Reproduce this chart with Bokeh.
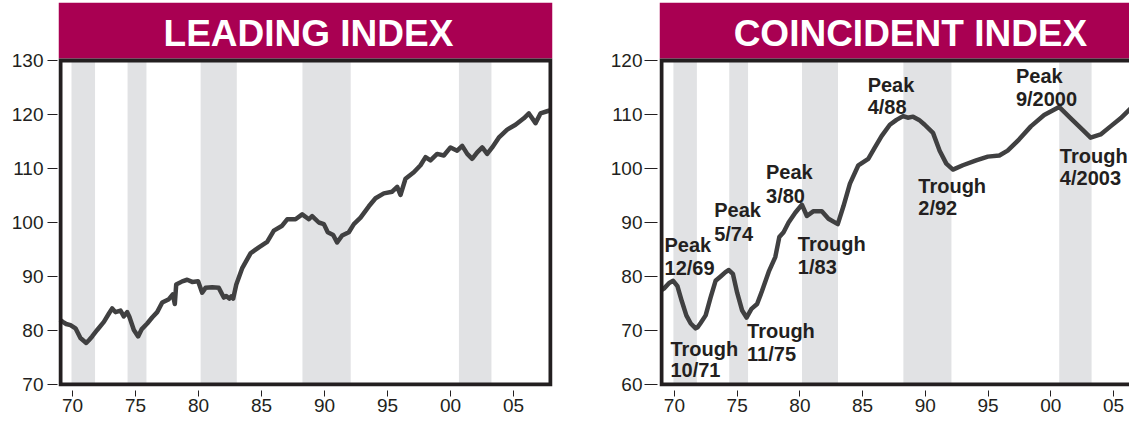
from bokeh.plotting import figure
from bokeh.layouts import row
from bokeh.models import Range1d, FixedTicker, CustomJSTickFormatter
from bokeh.core.properties import value
from bokeh.embed import file_html
from bokeh.resources import INLINE

# ---------------- data ----------------
leading_year = [1969.0, 1969.23, 1969.5, 1969.84, 1970.24, 1970.63, 1971.09, 1971.3, 1971.56, 1971.96,
                1972.49, 1972.88, 1973.15, 1973.41, 1973.81, 1974.07, 1974.34, 1974.52, 1974.87, 1975.21,
                1975.48, 1975.93, 1976.32, 1976.72, 1977.12, 1977.65, 1977.96, 1978.12, 1978.23, 1978.71,
                1979.1, 1979.5, 1979.97, 1980.29, 1980.56, 1981.09, 1981.61, 1982.01, 1982.2, 1982.45,
                1982.6, 1982.75, 1983.0, 1983.46, 1984.13, 1984.79, 1985.45, 1985.98, 1986.64, 1987.04,
                1987.7, 1988.23, 1988.76, 1989.02, 1989.55, 1989.95, 1990.26, 1990.69, 1991.0, 1991.4,
                1991.93, 1992.33, 1992.86, 1993.52, 1994.05, 1994.71, 1995.37, 1995.77, 1996.03, 1996.43,
                1997.09, 1997.62, 1998.02, 1998.41, 1998.94, 1999.47, 2000.0, 2000.53, 2000.93, 2001.33,
                2001.72, 2002.12, 2002.52, 2002.91, 2003.31, 2003.83, 2004.5, 2005.16, 2005.82, 2006.22,
                2006.75, 2007.14, 2007.67, 2007.95]
leading_value = [82.0, 81.6, 81.2, 81.0, 80.4, 78.6, 77.7, 78.2, 78.9, 80.1,
                 81.6, 83.1, 84.1, 83.4, 83.7, 82.6, 83.4, 82.5, 80.1, 78.9,
                 80.2, 81.3, 82.4, 83.4, 85.2, 85.8, 86.7, 84.9, 88.5, 89.1,
                 89.4, 89.0, 89.1, 87.0, 87.9, 88.0, 87.9, 86.1, 86.4, 85.9,
                 86.3, 85.9, 88.5, 91.5, 94.3, 95.4, 96.4, 98.5, 99.4, 100.6,
                 100.6, 101.5, 100.6, 101.2, 100.0, 99.7, 98.2, 97.7, 96.3, 97.6,
                 98.2, 99.7, 100.9, 103.0, 104.5, 105.4, 105.7, 106.6, 105.1, 108.1,
                 109.3, 110.6, 112.1, 111.5, 112.7, 112.4, 113.9, 113.3, 114.2, 112.7,
                 111.8, 113.0, 113.9, 112.7, 113.9, 115.7, 117.2, 118.1, 119.3, 120.2,
                 118.4, 120.2, 120.6, 120.8]

coincident_year = [1969.0, 1969.18, 1969.58, 1969.9, 1970.24, 1970.58, 1970.95, 1971.3, 1971.69, 1971.85,
                   1972.09, 1972.49, 1972.88, 1973.28, 1973.68, 1974.07, 1974.34, 1974.66, 1975.0, 1975.4,
                   1975.75, 1976.14, 1976.59, 1976.98, 1977.52, 1978.04, 1978.36, 1978.7, 1979.1, 1979.63,
                   1980.16, 1980.56, 1981.09, 1981.75, 1982.28, 1983.02, 1983.47, 1983.99, 1984.66, 1985.45,
                   1985.98, 1986.51, 1987.17, 1987.7, 1988.23, 1988.6, 1989.02, 1989.5, 1989.95, 1990.61,
                   1991.14, 1991.67, 1992.2, 1992.99, 1994.05, 1994.98, 1995.9, 1996.56, 1997.48, 1998.41,
                   1999.47, 2000.66, 2001.59, 2002.52, 2003.17, 2003.97, 2004.76, 2005.56, 2006.35, 2007.41]
coincident_value = [77.5, 77.8, 78.8, 79.2, 78.2, 75.5, 72.8, 71.3, 70.4, 70.6,
                    71.4, 72.8, 76.1, 79.2, 80.0, 80.8, 81.2, 80.5, 77.0, 73.7,
                    72.4, 74.0, 74.9, 77.3, 80.9, 83.6, 87.3, 88.2, 90.0, 91.8,
                    93.3, 91.2, 92.1, 92.1, 90.7, 89.7, 93.0, 97.2, 100.6, 101.8,
                    103.9, 106.0, 108.1, 109.0, 109.7, 109.4, 109.6, 109.0, 108.1, 106.6,
                    103.3, 100.9, 99.8, 100.6, 101.5, 102.2, 102.4, 103.3, 105.4, 107.8,
                    109.9, 111.4, 109.3, 107.2, 105.7, 106.3, 107.8, 109.3, 111.1, 112.6]

# growth-cycle peak-to-trough shading
shade_start = [1969.92, 1974.37, 1980.17, 1988.25, 2000.67]
shade_end = [1971.79, 1975.87, 1983.04, 1992.08, 2003.25]

x_ticks = [1970, 1975, 1980, 1985, 1990, 1995, 2000, 2005]
lead_y_ticks = [70, 80, 90, 100, 110, 120, 130]
coin_y_ticks = [60, 70, 80, 90, 100, 110, 120]

# annotation texts (two lines each) and their anchor positions (year, index)
ann_line1 = ["Peak", "Trough", "Peak", "Trough", "Peak", "Trough", "Peak", "Trough", "Peak", "Trough"]
ann_line2 = ["12/69", "10/71", "5/74", "11/75", "3/80", "1/83", "4/88", "2/92", "9/2000", "4/2003"]
ann_x = [1969.21, 1969.68, 1973.17, 1975.79, 1977.30, 1979.84, 1985.40, 1989.44, 1997.22, 2000.72]
ann_y1 = [85.9, 66.6, 92.3, 70.0, 99.35, 86.1, 115.5, 96.8, 117.1, 102.25]
ann_y2 = [81.6, 62.75, 87.9, 65.65, 95.0, 81.8, 111.3, 92.6, 112.9, 98.3]

# ---------------- style / layout (pixels) ----------------
MAGENTA = "#A90052"
SHADE = "#E1E2E4"
LINE = "#404041"
DARK = "#231F20"
FONT = "Liberation Sans"

FIG_H = 421
TOP = 2          # border above the banner
BANNER = 56      # banner height
BORDER = 4       # frame line width
PLOT = 324       # distance between frame line centres (top to bottom)
BOTTOM = FIG_H - TOP - BANNER - BORDER - PLOT   # x-axis panel
PX_PER_YEAR = 12.6
PX_PER_UNIT = PLOT / 60.0

LEFT_W = 607
RIGHT_W = 522
LEFT_BL, LEFT_BR = 58, 55      # left figure borders -> frame 494 px
RIGHT_BL = 50                  # right figure frame 472 px


def make_chart(width, bl, br, year_at_line, ymin, yticks, title, title_x):
    half = BORDER / 2.0
    frame_w = width - bl - br
    x0 = year_at_line - half / PX_PER_YEAR
    x1 = x0 + frame_w / PX_PER_YEAR
    ymax = ymin + 60
    y0 = ymin - half / PX_PER_UNIT
    ytop = ymax + (half + BANNER) / PX_PER_UNIT
    p = figure(width=width, height=FIG_H, x_range=Range1d(x0, x1), y_range=Range1d(y0, ytop),
               toolbar_location=None, output_backend="svg",
               min_border_left=bl, min_border_right=br,
               min_border_top=TOP, min_border_bottom=BOTTOM,
               background_fill_color="white", border_fill_color="white",
               outline_line_color=None)
    p.xgrid.visible = False
    p.ygrid.visible = False
    # recession shading
    p.quad(left=shade_start, right=shade_end, bottom=ymin, top=ymax,
           fill_color=SHADE, line_color=None)
    # banner
    p.quad(left=[x0], right=[x1], bottom=[ymax + half / PX_PER_UNIT], top=[ytop],
           fill_color=MAGENTA, line_color=None)
    p.text(x=[title_x], y=[ymax + half / PX_PER_UNIT + 0.45 * BANNER / PX_PER_UNIT], text=[title],
           text_color="white", text_font=value(FONT), text_font_style="bold",
           text_font_size="37px", text_align="center", text_baseline="middle")
    # axes
    p.xaxis.ticker = FixedTicker(ticks=x_ticks)
    p.xaxis.formatter = CustomJSTickFormatter(code="return String(Math.round(tick) % 100).padStart(2, '0');")
    p.yaxis.ticker = FixedTicker(ticks=yticks)
    for ax in (p.xaxis[0], p.yaxis[0]):
        ax.axis_line_color = None
        ax.minor_tick_line_color = None
        ax.major_tick_line_color = DARK
        ax.major_tick_line_width = 1
        ax.major_label_text_font = FONT
        ax.major_label_text_font_size = "19px"
        ax.major_label_text_color = DARK
    p.xaxis.major_tick_in = -4
    p.xaxis.major_tick_out = 10
    p.xaxis.major_label_standoff = 2
    box = (year_at_line, ymin, ymax)
    return p, box


def frame_box(p, box, right):
    left, ymin, ymax = box
    p.quad(left=[left], right=[right], bottom=[ymin], top=[ymax], fill_color=None,
           line_color=DARK, line_width=BORDER, line_join="miter")


# ---------------- leading ----------------
lp, lbox = make_chart(LEFT_W, LEFT_BL, LEFT_BR, 1969.048, 70, lead_y_ticks,
                      "LEADING INDEX", 1988.73)
lp.line(leading_year, leading_value, line_color=LINE, line_width=4.5, line_join="round")
frame_box(lp, lbox, lp.x_range.end - (BORDER / 2.0) / PX_PER_YEAR)
lp.yaxis.major_tick_in = -1
lp.yaxis.major_tick_out = 11
lp.yaxis.major_label_standoff = 4

# ---------------- coincident ----------------
rp, rbox = make_chart(RIGHT_W, RIGHT_BL, 0, 1968.97, 60, coin_y_ticks,
                      "COINCIDENT INDEX", 1988.81)
rp.line(coincident_year, coincident_value, line_color=LINE, line_width=4.5, line_join="round")
frame_box(rp, rbox, rp.x_range.end + 2)
rp.yaxis.major_tick_in = -2
rp.yaxis.major_tick_out = 15
rp.yaxis.major_label_standoff = 2

rp.text(x=ann_x, y=ann_y1, text=ann_line1, text_color=DARK, text_font=value(FONT),
        text_font_style="bold", text_font_size="20px", text_align="left", text_baseline="middle")
rp.text(x=ann_x, y=ann_y2, text=ann_line2, text_color=DARK, text_font=value(FONT),
        text_font_style="bold", text_font_size="20px", text_align="left", text_baseline="middle")

p = row(lp, rp)
open("out.html", "w").write(file_html(p, INLINE))
